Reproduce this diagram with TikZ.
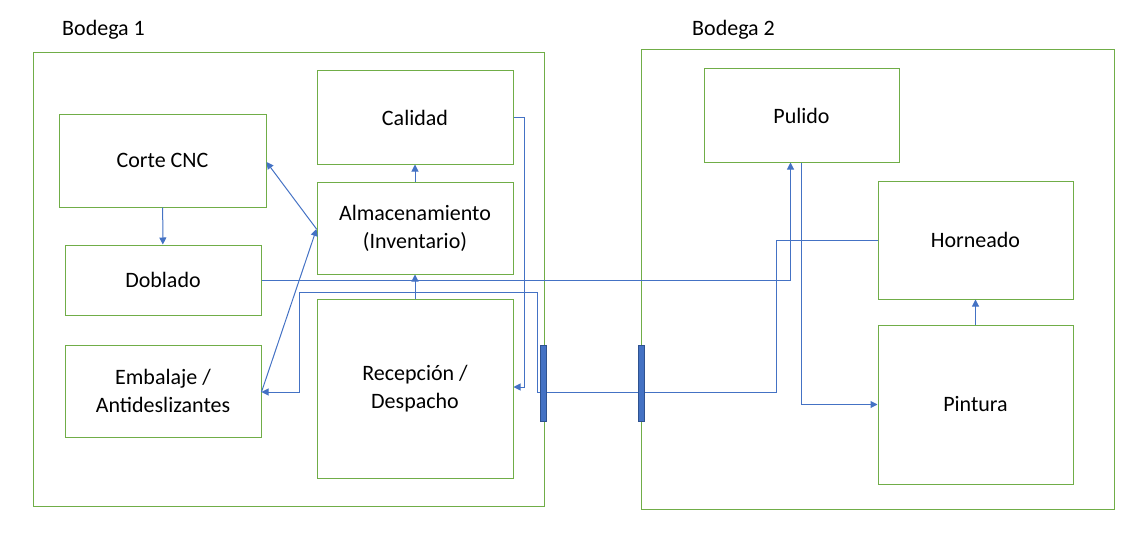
\documentclass[tikz,border=0pt]{standalone}
\usepackage{fontspec}
\setmainfont{Carlito}
\usetikzlibrary{arrows.meta}

\definecolor{boxgreen}{HTML}{70AD47}
\definecolor{linkblue}{HTML}{4472C4}
\definecolor{bardark}{HTML}{2F528F}

\tikzset{
  area/.style={draw=boxgreen, line width=1pt, minimum width=#1, inner sep=0pt,
    align=center, font=\fontsize{22}{28}\selectfont},
  area/.default=196pt,
  bodega/.style={draw=boxgreen, line width=1pt, inner sep=0pt},
  link/.style={draw=linkblue, line width=1pt},
  door/.style={draw=bardark, fill=linkblue, line width=1pt, minimum width=6pt,
    minimum height=76pt, inner sep=0pt},
  title/.style={anchor=base west, inner sep=0pt, font=\fontsize{22}{28}\selectfont}
}

\begin{document}
\begin{tikzpicture}[x=1pt, y=-1pt, >={Triangle[width=7pt,length=7pt]}]
    \useasboundingbox (0,0) rectangle (1141,535);

    % bodegas
    \node[bodega, minimum width=511pt, minimum height=453pt] (B1) at (288.5, 279.5) {};
    \node[bodega, minimum width=473pt, minimum height=459pt] (B2) at (877.5, 279.5) {};
    \node[title] (T1) at (62, 36) {Bodega 1};
    \node[title] (T2) at (692, 36) {Bodega 2};

    % bodega 1
    \node[area, minimum height=93pt] (CAL) at (415, 117.5) {Calidad};
    \node[area=207pt, minimum height=93pt] (CNC) at (162.5, 160.5) {Corte CNC};
    \node[area, minimum height=92pt] (ALM) at (415, 228) {Almacenamiento\\(Inventario)};
    \node[area, minimum height=70pt] (DOB) at (163, 280) {Doblado};
    \node[area, minimum height=92pt] (EMB) at (163, 391) {Embalaje /\\Antideslizantes};
    \node[area, minimum height=179pt] (REC) at (415, 388.5) {Recepción /\\Despacho};

    % bodega 2
    \node[area=195pt, minimum height=93pt] (PUL) at (801.5, 115.5) {Pulido};
    \node[area=195pt, minimum height=118pt] (HOR) at (975.5, 240) {Horneado};
    \node[area=195pt, minimum height=159pt] (PIN) at (975.5, 404.5) {Pintura};

    % flujos
    \draw[link,->] (CNC) -- (DOB);
    \draw[link,->] (REC) -- (ALM);
    \draw[link,->] (ALM) -- (CAL);
    \draw[link,->] ([yshift=-1pt]ALM.west) -- ([yshift=-1.5pt]CNC.east);
    \draw[link,->] ([yshift=-1pt]EMB.east) -- ([yshift=-1pt]ALM.west);
    \draw[link,->] (CAL.east) -- ++(11,0) |- ([yshift=1.5pt]REC.east);
    \draw[link,->] (DOB.east) -| ([xshift=-11pt]PUL.south);
    \draw[link,->] (PUL.south) |- (PIN.west);
    \draw[link,->] (PIN) -- (HOR);
    \draw[link,->] (HOR.west) -- ++(-101,0) |- (537,392) |- (299,292) |- ([yshift=-1pt]EMB.east);

    % puertas
    \node[door] (P1) at (543, 383) {};
    \node[door] (P2) at (641.5, 383) {};
  \end{tikzpicture}
\end{document}
